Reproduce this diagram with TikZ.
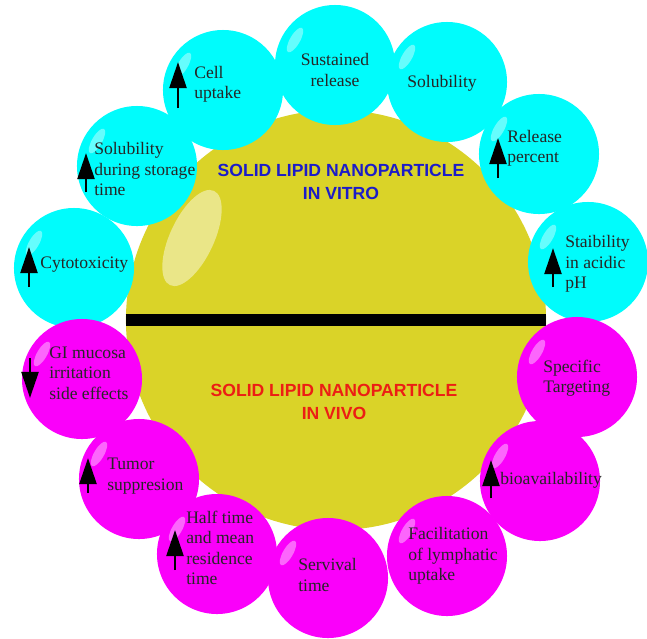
\documentclass[tikz,border=0pt]{standalone}
\usepackage{fontspec}
\setmainfont{Liberation Serif}
\newfontfamily\headfont{Liberation Sans}
\usetikzlibrary{arrows.meta,shapes.geometric,positioning}

\definecolor{bubcyan}{RGB}{0,252,252}
\definecolor{bubpink}{RGB}{250,0,250}
\definecolor{coreyel}{RGB}{218,211,40}
\definecolor{vitroblue}{RGB}{28,28,200}
\definecolor{vivored}{RGB}{236,30,20}

\tikzset{
  bub/.style={circle,minimum size=3cm,inner sep=0pt},
  vitro/.style={bub,fill=bubcyan},
  vivo/.style={bub,fill=bubpink},
  gloss/.style={ellipse,fill=white,opacity=.4,minimum width=.25cm,minimum height=.7cm,inner sep=0pt},
  txt/.style={font=\fontsize{12.5}{14.5}\selectfont,align=left,inner sep=0pt,text=black!85,anchor=west},
  head/.style={font=\headfont\bfseries\fontsize{12.5}{16.5}\selectfont,align=center,inner sep=0pt},
  uparr/.style={-{Triangle[length=.65cm,width=.42cm]},line width=2.1pt}
}

\begin{document}
\begin{tikzpicture}[x=0.025cm,y=-0.025cm]
\useasboundingbox (0,0) rectangle (647,639);

\node[circle,fill=coreyel,minimum size=10.5cm,inner sep=0pt] (core) at (336,320) {};
\node[ellipse,fill=white,opacity=.45,minimum width=1.1cm,minimum height=2.6cm,rotate=-25] (shine) at (192,238) {};
\draw[line width=.3cm] (core.west) -- (core.east);

\node[head,text=vitroblue] (vitro) at (341,182) {SOLID LIPID NANOPARTICLE\\IN VITRO};
\node[head,text=vivored] (vivo) at (334,402) {SOLID LIPID NANOPARTICLE\\IN VIVO};

\foreach \n/\x/\y in {cyto/74/268,store/137/166,cell/223/90,sust/335/65,solu/447/82,rel/539/154,stab/588/262}
  \node[vitro] (\n) at (\x,\y) {};
\foreach \n/\x/\y in {gi/82/379,tumor/139/479,half/217/554,surv/328/578,facil/447/556,bio/540/481,spec/577/377}
  \node[vivo] (\n) at (\x,\y) {};
\foreach \n in {cyto,store,cell,sust,solu,rel,stab,gi,tumor,half,surv,facil,bio,spec}
  \node[gloss,rotate=-30] (g\n) at ([shift={(-40,-25)}]\n.center) {};

\def\bubtxt{cell/194/84/{Cell\\uptake},store/94/169/{Solubility\\during storage\\time},cyto/40/265/{Cytotoxicity},rel/507/148/{Release\\percent},stab/565/264/{Staibility\\in acidic\\pH},gi/49/373/{GI mucosa\\irritation\\side effects},tumor/107/476/{Tumor\\suppresion},half/186/548/{Half time\\and mean\\residence\\time},bio/500/480/{bioavailability},spec/543/378/{Specific\\Targeting},facil/408/556/{Facilitation\\of lymphatic\\uptake},surv/298/575/{Servival\\time}}
\foreach \n/\x/\y/\t in \bubtxt
  \node[txt] (t\n) at (\x,\y) {\t};
\node[txt,anchor=center,align=center] (tsust) at (335,70) {Sustained\\release};
\node[txt,anchor=center] (tsolu) at (442,83) {Solubility};

\foreach \x/\a/\b in {178/108/62,86/192/153,29/287/247,498/178/138,553/287/248,88/493/458,175/570/530,491/498/460,30/358/398}
  \draw[uparr] (\x,\a) -- (\x,\b);

\end{tikzpicture}
\end{document}
